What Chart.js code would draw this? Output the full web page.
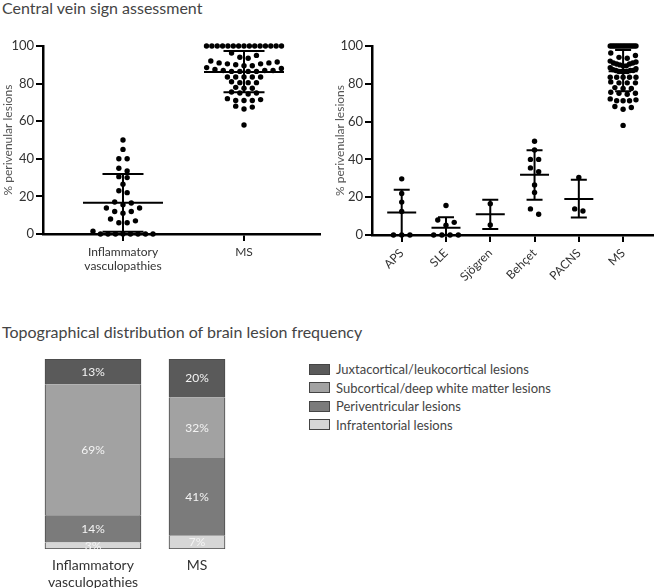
<!DOCTYPE html>
<html>
<head>
<meta charset="utf-8">
<script src="https://cdn.jsdelivr.net/npm/chart.js@4.4.1/dist/chart.umd.min.js"></script>
<style>
  body { margin: 0; background: #fff; font-family: Lato, sans-serif; }
  #wrap { position: relative; width: 656px; height: 588px; overflow: hidden; }
  .title { position: absolute; left: 2px; font-size: 16px; color: #444; white-space: nowrap; }
  canvas { position: absolute; }
  #legend { position: absolute; left: 309px; top: 360px; font-size: 13px; color: #444; }
  #legend div { height: 18.5px; display: flex; align-items: center; white-space: nowrap; }
  #legend span { display: inline-block; width: 19px; height: 9px; border: 1px solid #444; margin-right: 6px; }
</style>
</head>
<body>
<div id="wrap">
  <div class="title" style="top:-2px">Central vein sign assessment</div>
  <div class="title" style="top:322px">Topographical distribution of brain lesion frequency</div>
  <canvas id="left" width="325" height="330" style="left:0;top:0"></canvas>
  <canvas id="right" width="331" height="330" style="left:325px;top:0"></canvas>
  <canvas id="bars" width="208" height="238" style="left:41px;top:350px"></canvas>
  <div id="legend"></div>
</div>
<script>
// ---- data ----
const leftLabels = [['Inflammatory', 'vasculopathies'], 'MS'];
const inflammatory = [0, 0, 0, 0, 0, 0, 0, 0, 1.5, 6, 6, 7, 8, 11, 12, 12, 13.8, 13.8,
  15.5, 16.5, 17, 22, 23, 26.5, 30, 30.5, 33.5, 35, 40, 40, 45, 50];
const msValues = [58, 66.5, 67.5, 68, 71, 71, 71, 71.5, 72, 74.5, 75, 75, 75.5, 77.5, 77.5, 78,
  80.5, 80.5, 80.5, 81, 83.5, 83.5, 83.5, 83.5, 83.5,
  86.5, 86.5, 86.5, 86.5, 87, 87, 87, 87.5, 88, 88.5,
  89.5, 89.5, 90, 90.5, 90.5, 91, 91, 91.5, 92, 93.5, 94, 95, 96.3,
  100, 100, 100, 100, 100, 100, 100, 100, 100, 100, 100, 100, 100, 100, 100];
const leftMean = [16.6, 86.2];
const leftHigh = [31.9, 97.3];
const leftLow = [1.2, 75.4];

const rightLabels = ['APS', 'SLE', 'Sjögren', 'Behçet', 'PACNS', 'MS'];
const aps = [0, 0, 0, 12.4, 17.4, 22, 29.7];
const sle = [0, 0, 0, 0, 5.2, 6.7, 7.9, 15.6];
const sjogren = [5.3, 16.5];
const behcet = [11, 13.8, 22.5, 26.5, 33.5, 35.5, 40, 40, 45, 49.6];
const pacns = [12.7, 13.8, 30.4];
const rightMean = [11.9, 3.9, 11, 31.9, 19.1, 86.7];
const rightHigh = [23.9, 9.4, 18.6, 44.8, 29.2, 97.9];
const rightLow = [0, 0, 3.2, 18.6, 9.2, 76.1];

const barLabels = [['Inflammatory', 'vasculopathies'], 'MS'];
const lesionTypes = ['Juxtacortical/leukocortical lesions', 'Subcortical/deep white matter lesions',
  'Periventricular lesions', 'Infratentorial lesions'];
const juxtacortical = [13.3, 20.2];
const subcortical = [68.9, 31.9];
const periventricular = [14.4, 40.9];
const infratentorial = [3.4, 7.0];
const lesionColors = ['#5a5a5a', '#a2a2a2', '#7b7b7b', '#d6d6d6'];

Chart.defaults.font.family = 'Lato, sans-serif';

// spread the dots of one column in rows, like a column scatter
function swarm(values, center, pxPerUnit, maxHalf) {
  const gap = 8.3, bin = 3;
  const rows = [];
  values.slice().sort((a, b) => a - b).forEach(v => {
    const row = rows[rows.length - 1];
    if (row && v - row[0] < bin) row.push(v); else rows.push([v]);
  });
  const pts = [];
  rows.forEach(row => {
    const n = row.length;
    const step = n > 1 ? Math.min(gap, 2 * maxHalf / (n - 1)) : 0;
    const offs = row.map((_, k) => (k - (n - 1) / 2) * step)
      .sort((a, b) => Math.abs(a) - Math.abs(b) || b - a);
    row.forEach((v, k) => pts.push({ x: center + offs[k] / pxPerUnit, y: v }));
  });
  return pts;
}

const meanSd = {
  id: 'meanSd',
  afterDatasetsDraw(chart, args, o) {
    const { ctx, scales: { x, y } } = chart;
    ctx.save();
    ctx.strokeStyle = '#000';
    ctx.lineWidth = 2;
    o.mean.forEach((m, i) => {
      const px = x.getPixelForValue(i);
      const ym = y.getPixelForValue(m), yh = y.getPixelForValue(o.high[i]), yl = y.getPixelForValue(o.low[i]);
      ctx.beginPath();
      ctx.moveTo(px, yl); ctx.lineTo(px, yh);
      ctx.moveTo(px - o.meanHalf, ym); ctx.lineTo(px + o.meanHalf, ym);
      ctx.moveTo(px - o.capHalf, yh); ctx.lineTo(px + o.capHalf, yh);
      if (o.low[i] > 0) { ctx.moveTo(px - o.capHalf, yl); ctx.lineTo(px + o.capHalf, yl); }
      ctx.stroke();
    });
    ctx.restore();
  }
};

function scatterChart(id, labels, points, errs, cfg) {
  return new Chart(document.getElementById(id), {
    type: 'scatter',
    data: { datasets: [{ data: points, pointRadius: 2.7, pointHoverRadius: 2.7, backgroundColor: '#000', borderWidth: 0, clip: false }] },
    options: {
      responsive: false,
      animation: false,
      layout: { padding: { top: 46, right: cfg.padRight, left: 0, bottom: 0 } },
      plugins: { legend: { display: false }, tooltip: { enabled: false }, meanSd: errs },
      scales: {
        x: {
          min: cfg.xMin, max: cfg.xMax,
          afterBuildTicks: s => { s.ticks = labels.map((_, i) => ({ value: i })); },
          afterFit: s => { s.height = cfg.xHeight; },
          ticks: {
            callback: v => labels[v], color: '#333', font: { size: 12 }, padding: 4,
            autoSkip: false, minRotation: cfg.rot, maxRotation: cfg.rot
          },
          grid: { drawOnChartArea: false, drawTicks: true, tickLength: 7, color: '#000', lineWidth: 2 },
          border: { display: true, color: '#000', width: 2.5 }
        },
        y: {
          min: 0, max: 100,
          afterFit: s => { s.width = cfg.yWidth; },
          ticks: { stepSize: 20, color: '#333', font: { size: 13 }, padding: 2 },
          grid: { drawOnChartArea: false, drawTicks: true, tickLength: 7, color: '#000', lineWidth: 2 },
          border: { display: true, color: '#000', width: 2.5 },
          title: { display: true, text: '% perivenular lesions', color: '#555', font: { size: 12 }, padding: { top: cfg.titlePad, bottom: 0 } }
        }
      }
    },
    plugins: [meanSd]
  });
}

// left panel: 121 px per category
scatterChart('left', leftLabels,
  [...swarm(inflammatory, 0, 121, 30), ...swarm(msValues, 1, 121, 37.5)],
  { mean: leftMean, high: leftHigh, low: leftLow, meanHalf: 40, capHalf: 20.5 },
  { xMin: -0.661, xMax: 1.628, padRight: 5, xHeight: 96, yWidth: 43, rot: 0, titlePad: 1 });

// right panel: 44.7 px per category
const rightGroups = [aps, sle, sjogren, behcet, pacns, msValues];
scatterChart('right', rightLabels,
  rightGroups.flatMap((g, i) => swarm(g, i, 44.7, i === 5 ? 13 : 14)),
  { mean: rightMean, high: rightHigh, low: rightLow, meanHalf: 14.5, capHalf: 8 },
  { xMin: -0.671, xMax: 5.682, padRight: 0, xHeight: 95, yWidth: 47, rot: 45, titlePad: 8 });

// bottom panel: stacked 100% bars
const lesionSeries = [juxtacortical, subcortical, periventricular, infratentorial];
const barWidths = [96, 56];
const barSets = [];
barLabels.forEach((_, g) => {
  for (let s = lesionSeries.length - 1; s >= 0; s--) {
    barSets.push({
      label: lesionTypes[s],
      data: barLabels.map((_, j) => j === g ? lesionSeries[s][g] : null),
      backgroundColor: lesionColors[s],
      borderColor: '#4a4a4a',
      borderWidth: { left: 1, right: 1, top: s === 0 ? 1 : 0, bottom: s === lesionSeries.length - 1 ? 1 : 0 },
      borderSkipped: false,
      barThickness: barWidths[g],
      stack: 'all'
    });
  }
});

const pctLabels = {
  id: 'pctLabels',
  afterDatasetsDraw(chart) {
    const ctx = chart.ctx;
    ctx.save();
    ctx.fillStyle = '#f4f4f4';
    ctx.font = '12px Lato, sans-serif';
    ctx.textAlign = 'center';
    ctx.textBaseline = 'middle';
    chart.data.datasets.forEach((ds, i) => {
      chart.getDatasetMeta(i).data.forEach((el, j) => {
        if (ds.data[j] == null) return;
        ctx.fillText(Math.round(ds.data[j]) + '%', el.x, (el.y + el.base) / 2);
      });
    });
    ctx.restore();
  }
};

new Chart(document.getElementById('bars'), {
  type: 'bar',
  data: { labels: barLabels, datasets: barSets },
  options: {
    responsive: false,
    animation: false,
    layout: { padding: { top: 9, left: 0, right: 0, bottom: 0 } },
    plugins: { legend: { display: false }, tooltip: { enabled: false } },
    scales: {
      x: {
        stacked: true,
        grid: { display: false }, border: { display: false },
        ticks: { color: '#333', font: { size: 14 }, padding: 0 },
        afterFit: s => { s.height = 39; }
      },
      y: { stacked: true, display: false, min: 0, max: 100 }
    }
  },
  plugins: [pctLabels]
});

// legend
const legendEl = document.getElementById('legend');
lesionTypes.forEach((name, i) => {
  const row = document.createElement('div');
  const box = document.createElement('span');
  box.style.background = lesionColors[i];
  row.appendChild(box);
  row.appendChild(document.createTextNode(name));
  legendEl.appendChild(row);
});
</script>
</body>
</html>
